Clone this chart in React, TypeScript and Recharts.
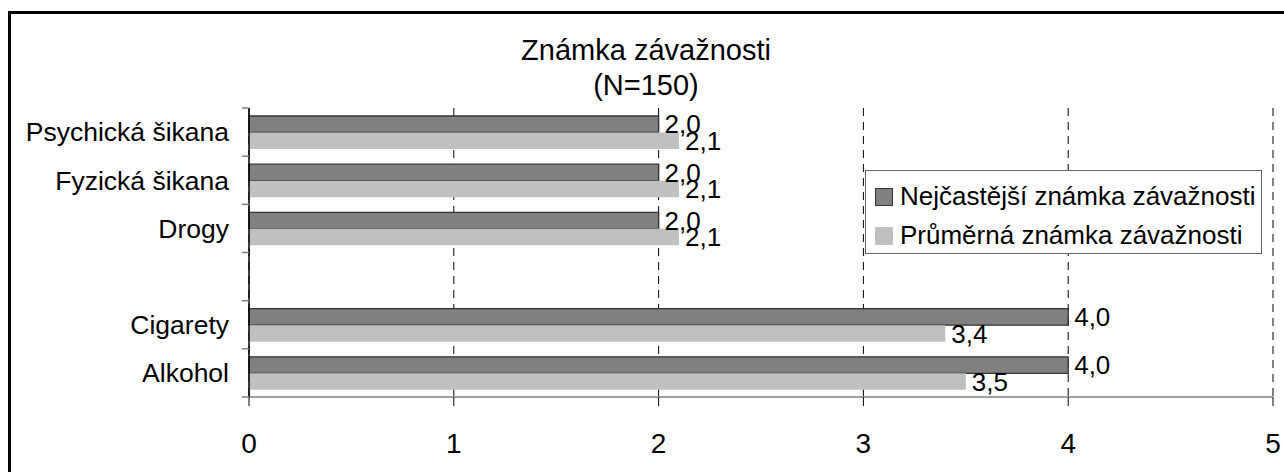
import { Bar, BarChart, CartesianGrid, LabelList, Legend, XAxis, YAxis } from "recharts";

// values
const categories = ["Psychická šikana", "Fyzická šikana", "Drogy", "", "Cigarety", "Alkohol"];
const nejcastejsi = [2.0, 2.0, 2.0, null, 4.0, 4.0];
const prumerna = [2.1, 2.1, 2.1, null, 3.4, 3.5];
const xTicks = [0, 1, 2, 3, 4, 5];
const seriesNames = ["Nejčastější známka závažnosti", "Průměrná známka závažnosti"];
const titleLines = ["Známka závažnosti", "(N=150)"];

const data = categories.map((name, i) => ({ name, nej: nejcastejsi[i], prum: prumerna[i] }));

const PAGE_W = 1284;
const PAGE_H = 472;
const W = 1276;
const H = 464;
const MARGIN = { top: 100, right: 11, left: 0, bottom: 0 };
const Y_AXIS_W = 241;
const X_AXIS_H = 75;
const BAND = (H - MARGIN.top - MARGIN.bottom - X_AXIS_H) / categories.length;

const DARK = "#808080";
const LIGHT = "#c0c0c0";
const FONT = "'Liberation Sans', Arial, sans-serif";

const fmt = (v: any) => (v == null ? "" : Number(v).toFixed(1).replace(".", ","));

// category tick: label plus the small grey marks between categories
const CategoryTick = (props: any) => {
  const { x, y, payload, index, visibleTicksCount } = props;
  const lx1 = x + 13;
  const lx2 = x + 20;
  return (
    <g>
      <text x={x} y={y} dy="0.355em" textAnchor="end" fontSize={26.5} fill="#000">
        {payload.value}
      </text>
      <line x1={lx1} x2={lx2} y1={y - BAND / 2} y2={y - BAND / 2} stroke="#808080" strokeWidth={1.5} />
      {index === visibleTicksCount - 1 && (
        <line x1={lx1} x2={lx2} y1={y + BAND / 2} y2={y + BAND / 2} stroke="#808080" strokeWidth={1.5} />
      )}
    </g>
  );
};

const ValueTick = (props: any) => {
  const { x, y, payload } = props;
  return (
    <text x={x} y={y} dy="0.71em" textAnchor="middle" fontSize={28} fill="#000">
      {payload.value}
    </text>
  );
};

const LegendBox = () => (
  <div
    style={{
      boxSizing: "border-box",
      width: 397,
      height: 84,
      border: "1.5px solid #666",
      background: "#fff",
      padding: "6px 0 0 9px",
      fontSize: 26,
      fontFamily: FONT,
      color: "#000",
    }}
  >
    {seriesNames.map((n, i) => (
      <div key={n} style={{ display: "flex", alignItems: "center", height: 39, whiteSpace: "nowrap" }}>
        <span
          style={{
            display: "inline-block",
            boxSizing: "border-box",
            width: 18,
            height: 18,
            marginRight: 7,
            background: i === 0 ? DARK : LIGHT,
            border: i === 0 ? "1px solid #333" : "none",
          }}
        />
        {n}
      </div>
    ))}
  </div>
);

const App = () => {
  return (
    <div style={{ position: "relative", width: PAGE_W, height: PAGE_H, overflow: "hidden", fontFamily: FONT }}>
      <style>{"html,body{margin:0;overflow:hidden}"}</style>
      <div
        style={{
          position: "absolute",
          left: 8,
          top: 11,
          width: 2000,
          height: 2000,
          border: "3px solid #000",
        }}
      />
      <div style={{ position: "absolute", left: 8, top: 8 }}>
        <BarChart
          width={W}
          height={H}
          data={data}
          layout="vertical"
          margin={MARGIN}
          barGap={0}
          barSize={16.5}
        >
          <CartesianGrid horizontal={false} vertical stroke="#000" strokeDasharray="8 6" strokeWidth={1} />
          <XAxis
            type="number"
            domain={[0, 5]}
            ticks={xTicks}
            height={X_AXIS_H}
            axisLine={{ stroke: "#808080", strokeWidth: 1.5 }}
            tickLine={{ stroke: "#000", strokeWidth: 1 }}
            tickSize={9}
            tickMargin={27}
            tick={<ValueTick />}
            interval={0}
          />
          <YAxis
            type="category"
            dataKey="name"
            width={Y_AXIS_W}
            axisLine={{ stroke: "#000", strokeWidth: 1.5 }}
            tickLine={false}
            tickSize={7}
            tickMargin={13}
            tick={<CategoryTick />}
            interval={0}
          />
          <Legend
            layout="vertical"
            align="center"
            verticalAlign="middle"
            wrapperStyle={{ left: 857, top: 162, width: 397 }}
            content={<LegendBox />}
          />
          <Bar dataKey="nej" name={seriesNames[0]} fill={DARK} stroke="#333" strokeWidth={1.3} isAnimationActive={false}>
            <LabelList dataKey="nej" position="right" offset={6} formatter={fmt} style={{ fontSize: 26, fill: "#000" }} />
          </Bar>
          <Bar dataKey="prum" name={seriesNames[1]} fill={LIGHT} isAnimationActive={false}>
            <LabelList dataKey="prum" position="right" offset={6} formatter={fmt} style={{ fontSize: 26, fill: "#000" }} />
          </Bar>
        </BarChart>
      </div>
      <div
        style={{
          position: "absolute",
          left: 8,
          top: 32.5,
          width: W,
          textAlign: "center",
          fontSize: 29,
          lineHeight: "35px",
          color: "#000",
        }}
      >
        {titleLines.map((t) => (
          <div key={t}>{t}</div>
        ))}
      </div>
    </div>
  );
};

export default App;
